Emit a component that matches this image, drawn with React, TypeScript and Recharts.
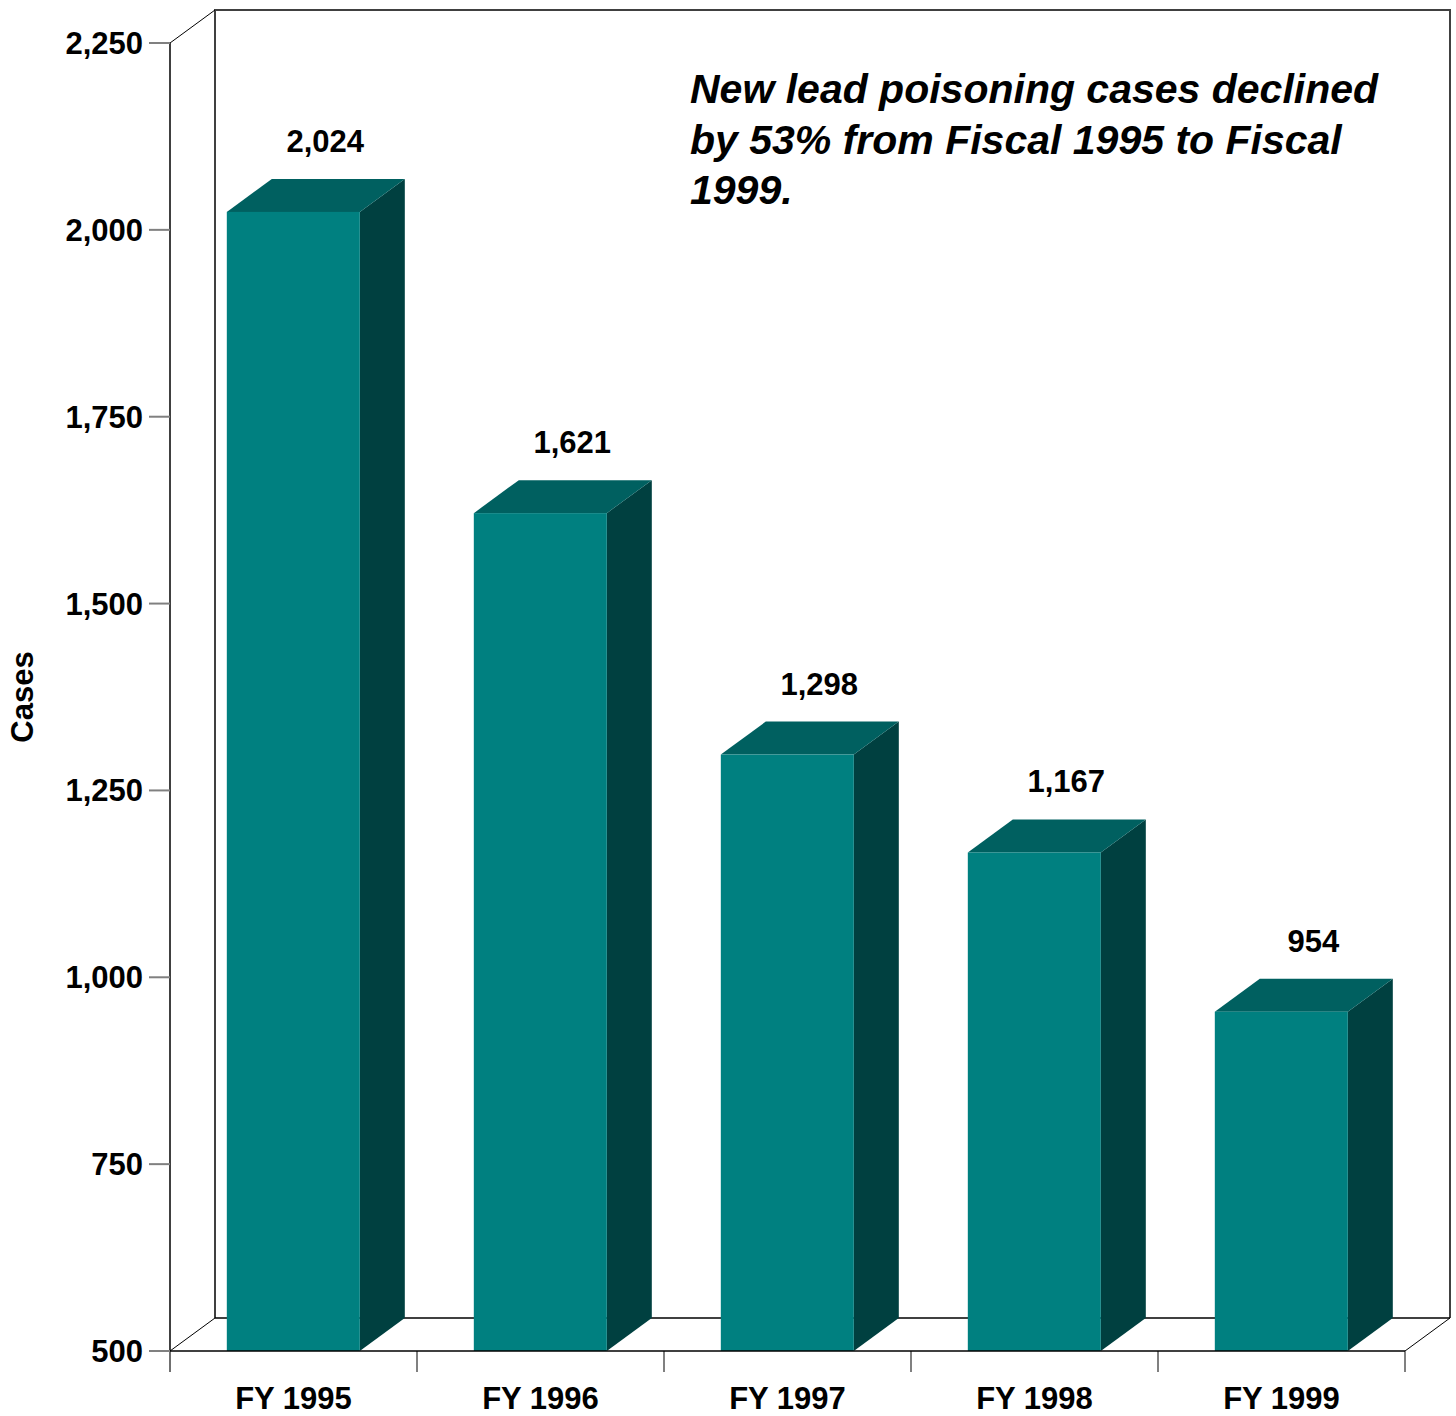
import { BarChart, Bar, XAxis, YAxis, LabelList, usePlotArea } from 'recharts';

// Fiscal years and new lead poisoning cases
const years = ['FY 1995', 'FY 1996', 'FY 1997', 'FY 1998', 'FY 1999'];
const cases = [2024, 1621, 1298, 1167, 954];
const yTicks = [500, 750, 1000, 1250, 1500, 1750, 2000, 2250];
const note = [
  'New lead poisoning cases declined',
  'by 53% from Fiscal 1995 to Fiscal',
  '1999.',
];

const data = years.map((year, i) => ({ year, cases: cases[i] }));

const W = 1456;
const H = 1416;
const FONT = '"Liberation Sans", Arial, Helvetica, sans-serif';
// 3-D depth offset of the back plane
const DX = 45;
const DY = -33;

const FRONT = '#008080';
const TOP = '#006060';
const SIDE = '#004040';

const fmt = (v: number) => v.toLocaleString('en-US');

function Box(props: any) {
  const { x, y, width, height } = props;
  if (!width || height == null) return null;
  const r = x + width;
  const b = y + height;
  return (
    <g>
      <polygon
        points={`${r},${y} ${r + DX},${y + DY} ${r + DX},${b + DY} ${r},${b}`}
        fill={SIDE}
      />
      <polygon
        points={`${x},${y} ${x + DX},${y + DY} ${r + DX},${y + DY} ${r},${y}`}
        fill={TOP}
      />
      <rect x={x} y={y} width={width} height={height} fill={FRONT} />
    </g>
  );
}

function ValueLabel(props: any) {
  const { x, y, width, value } = props;
  return (
    <text
      x={x + width / 2 + 32}
      y={y - 60}
      textAnchor="middle"
      fontFamily={FONT}
      fontWeight="bold"
      fontSize={31}
      fill="#000"
    >
      {fmt(value)}
    </text>
  );
}

// back wall, floor and band ticks drawn around the plot area
function Frame() {
  const area = usePlotArea();
  if (!area) return null;
  const { x, y, width: w, height: h } = area;
  const b = y + h;
  const band = w / years.length;
  return (
    <g>
      <polyline
        points={`${x + DX},${b + DY} ${x + DX},${y + DY} ${x + w + DX},${y + DY} ${x + w + DX},${b + DY}`}
        fill="none"
        stroke="#404040"
        strokeWidth={2}
      />
      <line x1={x + DX} y1={b + DY} x2={x + w + DX} y2={b + DY} stroke="#000" strokeWidth={1.5} />
      <line x1={x} y1={b} x2={x + DX} y2={b + DY} stroke="#000" strokeWidth={1} />
      <line x1={x + w} y1={b} x2={x + w + DX} y2={b + DY} stroke="#000" strokeWidth={1} />
      <line x1={x} y1={y} x2={x + DX} y2={y + DY} stroke="#000" strokeWidth={1} />
      {years.map((_, i) => (
        <line key={i} x1={x + band * (i + 1)} y1={b} x2={x + band * (i + 1)} y2={b + 21} stroke="#808080" strokeWidth={2} />
      ))}
      <line x1={x} y1={b} x2={x} y2={b + 21} stroke="#404040" strokeWidth={1.5} />
      <text
        transform={`translate(33, ${y + h / 2}) rotate(-90)`}
        textAnchor="middle"
        fontFamily={FONT}
        fontWeight="bold"
        fontSize={31}
      >
        Cases
      </text>
      <text fontFamily={FONT} fontWeight="bold" fontStyle="italic" fontSize={41} fill="#000">
        {note.map((line, i) => (
          <tspan key={i} x={690} y={103 + i * 50.5}>
            {line}
          </tspan>
        ))}
      </text>
    </g>
  );
}

export default function App() {
  return (
    <div style={{ position: 'absolute', left: 0, top: 0, width: W, height: H, background: '#fff' }}>
      <BarChart
        width={W}
        height={H}
        data={data}
        margin={{ top: 43, right: 51, bottom: 5, left: 20 }}
        barCategoryGap="23%"
      >
        <Frame />
        <XAxis
          dataKey="year"
          height={60}
          tickLine={false}
          tickSize={0}
          tickMargin={36}
          axisLine={{ stroke: '#000', strokeWidth: 1.5 }}
          tick={{ fontFamily: FONT, fontWeight: 'bold', fontSize: 31, fill: '#000' }}
        />
        <YAxis
          width={150}
          domain={[500, 2250]}
          ticks={yTicks}
          interval={0}
          tickFormatter={fmt}
          tickSize={21}
          tickMargin={6}
          axisLine={{ stroke: '#000', strokeWidth: 1.5 }}
          tickLine={{ stroke: '#808080', strokeWidth: 2 }}
          tick={{ fontFamily: FONT, fontWeight: 'bold', fontSize: 31, fill: '#000' }}
        />
        <Bar dataKey="cases" shape={<Box />} isAnimationActive={false}>
          <LabelList dataKey="cases" content={<ValueLabel />} />
        </Bar>
      </BarChart>
    </div>
  );
}
